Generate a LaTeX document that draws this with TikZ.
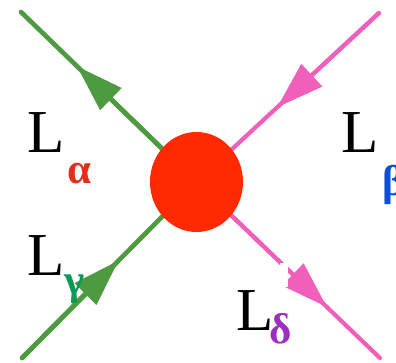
\documentclass[tikz,border=0pt]{standalone}
\usepackage{fontspec}
\setmainfont{Liberation Serif}
\usetikzlibrary{arrows.meta,calc,shapes.geometric}
\definecolor{lgreen}{RGB}{78,154,64}
\definecolor{lpink}{RGB}{240,96,186}
\definecolor{lred}{RGB}{255,42,0}
\definecolor{calpha}{RGB}{224,48,26}
\definecolor{cbeta}{RGB}{11,80,216}
\definecolor{cgamma}{RGB}{10,153,85}
\definecolor{cdelta}{RGB}{155,48,192}
\begin{document}
\begin{tikzpicture}[x=1pt,y=-1pt,
  gline/.style={draw=lgreen,line width=4.7pt,line cap=round},
  pline/.style={draw=lpink,line width=4.2pt,line cap=round},
  bigtip/.style={-{Triangle[length=47pt,width=31pt,line width=0pt]}},
  bigL/.style={anchor=base west,inner sep=0pt,font=\fontsize{61}{61}\selectfont},
  greek/.style={anchor=base west,inner sep=0pt,font=\fontsize{43}{43}\selectfont\bfseries}]
\useasboundingbox (0,0) rectangle (396,362);
\coordinate (ctr) at (196.5,182);
\coordinate (g1) at (21,12);
\coordinate (g2) at (22,358);
\coordinate (p1) at (379,13);
\coordinate (p2) at (380,358);
\coordinate (gt1) at ($(g1)!0.32!(ctr)$);
\coordinate (gt2) at ($(g2)!0.553!(ctr)$);
\coordinate (pt1) at ($(p1)!0.557!(ctr)$);
\coordinate (pt2) at ($(ctr)!0.71!(p2)$);
% lines
\draw[gline] (g1) -- (ctr);
\draw[gline] (g2) -- (ctr);
\draw[pline] (p1) -- (ctr);
\draw[pline] (p2) -- (ctr);
% arrowheads
\draw[gline,bigtip,line cap=butt] (ctr) -- (gt1);
\draw[gline,bigtip,line cap=butt] (g2) -- (gt2);
\draw[pline,bigtip,line cap=butt] (p1) -- (pt1);
\draw[pline,bigtip,line cap=butt] (ctr) -- (pt2);
% white patch near L delta
\fill[white] (280,263) rectangle (288,287);
% vertex
\node[ellipse,fill=lred,inner sep=0pt,minimum width=93pt,minimum height=100pt] (v) at (ctr) {};
% labels
\node[bigL] (la) at (27,152) {L};
\node[greek,text=calpha] (sa) at (67,183) {α};
\node[bigL] (lb) at (341,152) {L};
\node[greek,text=cbeta] (sb) at (382,195) {β};
\node[bigL] (lc) at (27,275) {L};
\node[greek,text=cgamma] (sc) at (64,294) {γ};
\node[bigL] (ld) at (236,330) {L};
\node[greek,text=cdelta] (sd) at (269,343) {δ};
\end{tikzpicture}
\end{document}
